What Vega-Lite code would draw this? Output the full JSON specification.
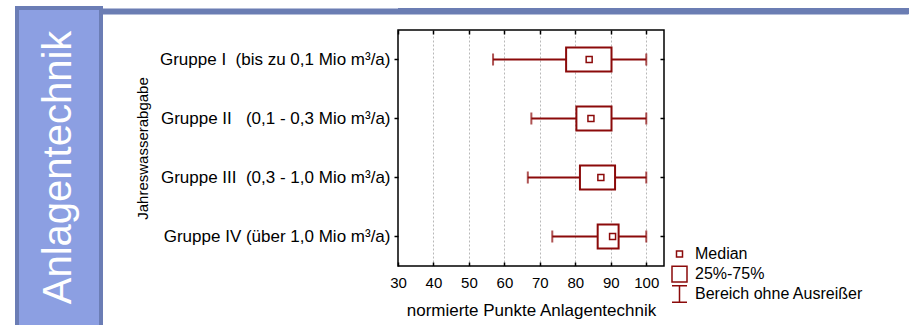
{
  "$schema": "https://vega.github.io/schema/vega-lite/v6.json",
  "background": "white",
  "padding": {"left": 15, "top": 6, "right": 0, "bottom": 0},
  "config": {"font": "Liberation Sans", "view": {"stroke": null}},
  "datasets": {
    "boxes": [
      {"gruppe": "Gruppe I\u00a0\u00a0(bis zu 0,1 Mio m³/a)", "low": 56.8, "q1": 77.4, "Median": 83.9, "q3": 90.2, "high": 100},
      {"gruppe": "Gruppe II\u00a0\u00a0\u00a0(0,1 - 0,3 Mio m³/a)", "low": 67.6, "q1": 80.3, "Median": 84.4, "q3": 90.2, "high": 100},
      {"gruppe": "Gruppe III\u00a0\u00a0(0,3 - 1,0 Mio m³/a)", "low": 66.6, "q1": 81.3, "Median": 87.2, "q3": 91.2, "high": 100},
      {"gruppe": "Gruppe IV (über 1,0 Mio m³/a)", "low": 73.5, "q1": 86.3, "Median": 90.5, "q3": 92.2, "high": 100}
    ]
  },
  "spacing": -4,
  "hconcat": [
    {
      "width": 84,
      "height": 319,
      "view": {"fill": "#8c9fe2", "stroke": "#6b7db5", "strokeWidth": 4},
      "data": {"values": [{"t": "Anlagentechnik"}]},
      "mark": {"type": "text", "angle": 270, "fontSize": 40, "color": "white", "align": "center", "baseline": "middle"},
      "encoding": {"text": {"field": "t"}}
    },
    {
      "columns": 1,
      "align": "none",
      "spacing": 14,
      "concat": [
        {
          "width": 809,
          "height": 6,
          "data": {"values": [{}]},
          "mark": {"type": "rect", "color": "#6b7db3"},
          "encoding": {
            "x": {"datum": 0, "type": "quantitative", "scale": {"domain": [0, 1]},
              "axis": {"orient": "top", "position": -299, "offset": -3, "ticks": false, "labels": false, "title": null, "grid": false,
                "domain": true, "domainColor": "#6b7db3", "domainWidth": 6}},
            "x2": {"datum": 1}
          }
        },
        {
          "width": 266,
          "height": 236,
          "view": {"stroke": "black", "strokeWidth": 1.5},
          "data": {"name": "boxes"},
          "resolve": {"axis": {"x": "independent", "y": "independent"}},
          "layer": [
            {
              "mark": {"type": "rule", "color": "#8b0a0a", "strokeWidth": 2},
              "encoding": {
                "x": {"field": "low", "type": "quantitative", "scale": {"domain": [30, 105], "nice": false, "zero": false},
                  "axis": {"orient": "bottom", "title": "normierte Punkte Anlagentechnik", "values": [30, 40, 50, 60, 70, 80, 90, 100],
                    "grid": true, "gridColor": "#b8b8b8", "gridDash": [2, 2], "gridWidth": 1,
                    "gridOpacity": {"condition": {"test": "datum.value === 30", "value": 0}, "value": 1},
                    "domain": false, "tickSize": -4, "tickColor": "black", "tickWidth": 1.5,
                    "labelFontSize": 15, "labelColor": "black", "labelPadding": 13, "labelFlush": false, "labelOverlap": false,
                    "titleFontSize": 17, "titleFontWeight": "normal", "titleColor": "black", "titlePadding": 12}},
                "x2": {"field": "high"},
                "y": {"field": "gruppe", "type": "nominal", "sort": null, "scale": {"paddingInner": 0, "paddingOuter": 0},
                  "axis": {"title": "Jahreswasserabgabe", "titleFontSize": 15, "titleFontWeight": "normal", "titleColor": "black", "titlePadding": 48,
                    "labelFontSize": 17, "labelColor": "black", "labelLimit": 0, "labelPadding": 4,
                    "tickSize": 4, "tickColor": "black", "tickWidth": 1.5, "domain": false, "grid": false}}
              }
            },
            {
              "mark": {"type": "bar", "fill": "white", "stroke": "#8b0a0a", "strokeWidth": 2, "size": 24},
              "encoding": {
                "x": {"field": "q1", "type": "quantitative",
                  "axis": {"orient": "top", "values": [30, 40, 50, 60, 70, 80, 90, 100], "labels": false, "title": null, "grid": false, "domain": false,
                    "tickSize": -4, "tickColor": "black", "tickWidth": 1.5}},
                "x2": {"field": "q3"},
                "y": {"field": "gruppe", "type": "nominal", "sort": null,
                  "axis": {"orient": "right", "labels": false, "title": null, "grid": false, "domain": false, "tickSize": -4, "tickColor": "black", "tickWidth": 1.5}}
              }
            },
            {
              "mark": {"type": "tick", "color": "#8b0a0a", "thickness": 2, "size": 12},
              "encoding": {
                "x": {"field": "low", "type": "quantitative", "axis": null},
                "y": {"field": "gruppe", "type": "nominal", "sort": null, "axis": null}
              }
            },
            {
              "mark": {"type": "tick", "color": "#8b0a0a", "thickness": 2, "size": 12},
              "encoding": {
                "x": {"field": "high", "type": "quantitative", "axis": null},
                "y": {"field": "gruppe", "type": "nominal", "sort": null, "axis": null}
              }
            },
            {
              "transform": [{"fold": ["Median"], "as": ["stat", "val"]}],
              "mark": {"type": "point", "filled": true, "fill": "white", "stroke": "#8b0a0a", "strokeWidth": 1.5, "size": 225, "opacity": 1},
              "encoding": {
                "x": {"field": "val", "type": "quantitative", "axis": null},
                "y": {"field": "gruppe", "type": "nominal", "sort": null, "axis": null},
                "shape": {"field": "stat", "type": "nominal",
                  "scale": {"domain": ["Median", "25%-75%", "Bereich ohne Ausreißer"],
                    "range": ["M-0.4,-0.4H0.4V0.4H-0.4Z", "M-1,-1.05H1V1.05H-1Z", "M-1,-1.1H1M0,-1.1V1.1M-1,1.1H1"]},
                  "legend": {"title": null, "orient": "none", "legendX": 654, "legendY": 237.5, "symbolSize": 225,
                    "gridAlign": "all", "labelFontSize": 16, "labelColor": "black", "labelOffset": 7, "rowPadding": -4, "padding": 0, "labelLimit": 0,
                    "encode": {"symbols": {"update": {
                      "shape": {"signal": "datum.value === 'Median' ? 'M-0.4,-0.4H0.4V0.4H-0.4Z' : datum.value === '25%-75%' ? 'M-1,-1.05H1V1.05H-1Z' : 'M-1,-1.1H1M0,-1.1V1.1M-1,1.1H1'"},
                      "size": {"value": 225},
                      "stroke": {"value": "#8b0a0a"}, "fill": {"value": "white"}, "strokeWidth": {"value": 2},
                      "opacity": {"value": 1}, "fillOpacity": {"value": 1}, "strokeOpacity": {"value": 1}}}}}}
              }
            }
          ]
        }
      ]
    }
  ]
}
